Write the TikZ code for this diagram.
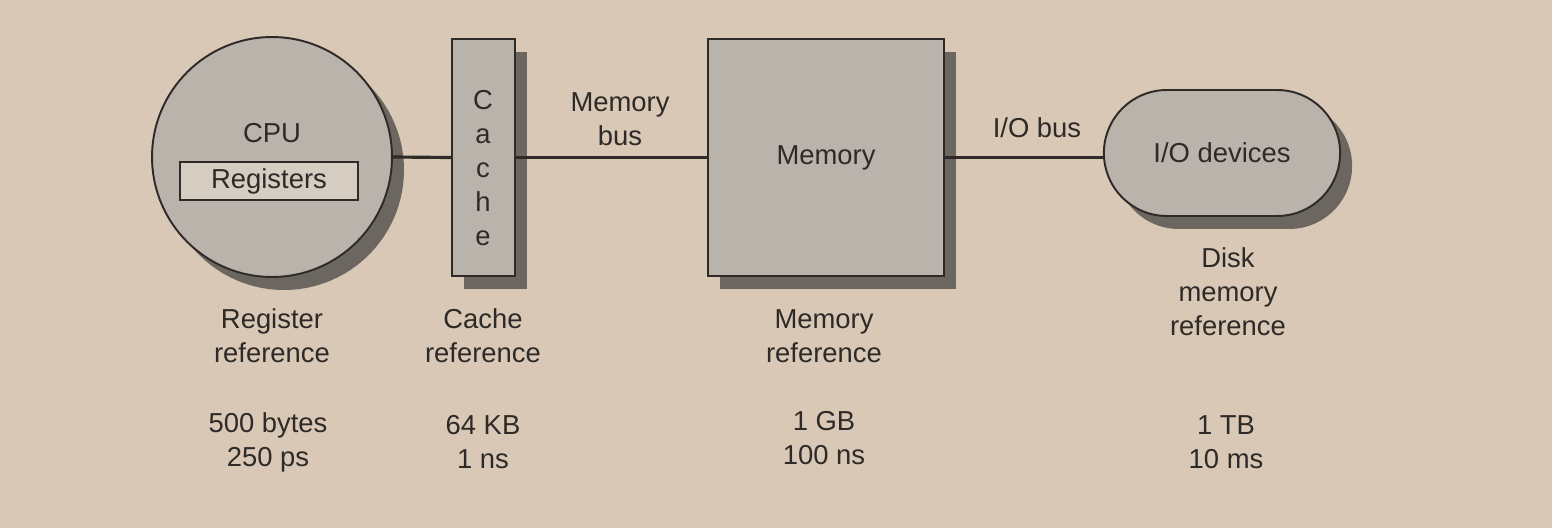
\documentclass[tikz,border=0pt]{standalone}
\usepackage{fontspec}
\setmainfont{Liberation Sans}
\definecolor{bgtan}{RGB}{217,200,181}
\definecolor{unitgray}{RGB}{186,179,171}
\definecolor{shadowgray}{RGB}{108,102,97}
\definecolor{reglight}{RGB}{214,205,194}
\definecolor{inkgray}{RGB}{45,42,40}
\usetikzlibrary{shadows,shapes.misc}

\begin{document}
\begin{tikzpicture}[x=0.02cm,y=-0.02cm,
  unit/.style={draw=inkgray,line width=1.1pt,fill=unitgray,text=inkgray,
    drop shadow={shadow xshift=0.24cm,shadow yshift=-0.26cm,fill=shadowgray,opacity=1}},
  bus/.style={draw=inkgray,line width=1.8pt},
  txt/.style={text=inkgray,align=center,font=\fontsize{15.6}{19.4}\selectfont}
]
  \fill[bgtan] (0,0) rectangle (1552,528);
  \useasboundingbox (0,0) rectangle (1552,528);

  % units
  \node[unit,circle,minimum size=4.8cm] (cpu) at (272,157) {};
  \node[txt] (cputxt) at (272,133) {CPU};
  \node[draw=inkgray,line width=1pt,fill=reglight,minimum width=3.56cm,minimum height=0.74cm,txt]
    (regs) at (269,181) {Registers};
  \node[unit,minimum width=1.26cm,minimum height=4.74cm] (cache) at (483.5,157.5) {};
  \node[txt] (cachetxt) at (483,168) {C\\a\\c\\h\\e};
  \node[unit,minimum width=4.72cm,minimum height=4.74cm,txt] (mem) at (826,157.5) {Memory};
  \node[unit,rounded rectangle,minimum width=4.96cm,minimum height=2.52cm,txt]
    (iodev) at (1222,153) {I/O devices};

  % buses
  \draw[bus] (cpu.east) -- (cache.west);
  \draw[bus] (cache.east) -- (mem.west);
  \draw[bus] (mem.east) -- (mem.east -| iodev.west);
  \node[txt] (membus) at (620,119) {Memory\\bus};
  \node[txt] (iobus) at (1037,128) {I/O bus};

  % references
  \node[txt] (regref) at (272,336) {Register\\reference};
  \node[txt] (cacheref) at (483,336) {Cache\\reference};
  \node[txt] (memref) at (824,336) {Memory\\reference};
  \node[txt] (diskref) at (1228,292) {Disk\\memory\\reference};

  % sizes and times
  \node[txt] (regsz) at (268,442) {500 bytes\\250 ps};
  \node[txt] (cachesz) at (483,442) {64 KB\\1 ns};
  \node[txt] (memsz) at (824,438) {1 GB\\100 ns};
  \node[txt] (disksz) at (1226,442) {1 TB\\10 ms};
\end{tikzpicture}
\end{document}
